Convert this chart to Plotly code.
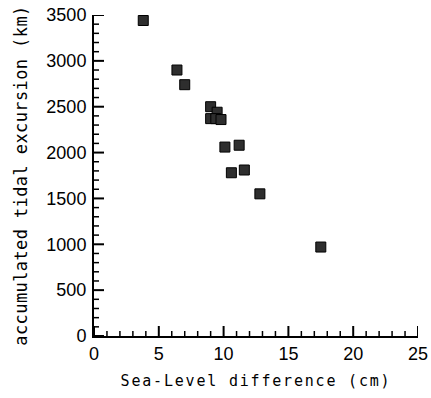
import plotly.graph_objects as go

sea_level_cm = [3.8, 6.4, 7.0, 9.0, 9.5, 9.0, 9.4, 9.8, 10.1, 11.2, 10.6, 11.6, 12.8, 17.5]
tidal_km = [3440, 2900, 2740, 2500, 2440, 2370, 2370, 2360, 2060, 2080, 1780, 1810, 1550, 970]

x_title = "Sea-Level difference (cm)"
y_title = "accumulated tidal excursion (km)"

x_major = [0, 5, 10, 15, 20, 25]
x_minor = [v for v in range(0, 26) if v % 5 != 0]
y_major = [0, 500, 1000, 1500, 2000, 2500, 3000, 3500]
y_minor = [v for v in range(0, 3501, 100) if v % 500 != 0]

W, H = 431, 398
ML, MR, MT, MB = 94, 13, 15, 62
X_RANGE = [0, 25]
Y_RANGE = [0, 3500]
px_x = (X_RANGE[1] - X_RANGE[0]) / (W - ML - MR)   # data units per pixel
px_y = (Y_RANGE[1] - Y_RANGE[0]) / (H - MT - MB)

x_title_font = dict(family="DejaVu Sans Mono", size=15, color="black")
y_title_font = dict(family="DejaVu Sans Mono", size=17, color="black")
tick_font = dict(family="Liberation Sans", size=18, color="black")

fig = go.Figure()

# inside tick marks, built from the tick lists
def tick_trace(vals, length, width, horizontal):
    xs, ys = [], []
    for v in vals:
        if horizontal:  # x-axis ticks pointing up
            xs += [v, v, None]
            ys += [Y_RANGE[0], Y_RANGE[0] + length * px_y, None]
        else:           # y-axis ticks pointing right
            xs += [X_RANGE[0], X_RANGE[0] + length * px_x, None]
            ys += [v, v, None]
    return go.Scatter(x=xs, y=ys, mode="lines", line=dict(color="black", width=width),
                      hoverinfo="skip", showlegend=False, cliponaxis=False)

fig.add_trace(tick_trace(x_major, 10, 2, True))
fig.add_trace(tick_trace(x_minor, 5, 1.5, True))
fig.add_trace(tick_trace(y_major, 10, 2, False))
fig.add_trace(tick_trace(y_minor, 5, 1.5, False))

fig.add_trace(go.Scatter(
    x=sea_level_cm, y=tidal_km, mode="markers",
    marker=dict(symbol="square", size=10, color="#2e2e2e",
                line=dict(color="black", width=1)),
    showlegend=False,
))

def spaced(t, s):
    return '<span style="letter-spacing:%spx">' % s + t + '</span>'

fig.update_layout(
    width=W, height=H,
    margin=dict(l=ML, r=MR, t=MT, b=MB),
    plot_bgcolor="white", paper_bgcolor="white",
    xaxis=dict(
        range=X_RANGE, tickvals=x_major, ticks="",
        showline=True, linecolor="black", linewidth=2, showgrid=False, zeroline=False,
        tickfont=tick_font, automargin=False,
        title=dict(text=spaced(x_title, 1.8), font=x_title_font, standoff=13),
    ),
    yaxis=dict(
        range=Y_RANGE, tickvals=y_major, ticks="", ticklabelstandoff=2,
        showline=True, linecolor="black", linewidth=2, showgrid=False, zeroline=False,
        tickfont=tick_font, automargin=False,
        title=dict(text=spaced(y_title, 0.4), font=y_title_font, standoff=14),
    ),
)

fig.write_html("out.html", post_script="document.body.style.margin='0';",
               config={"displayModeBar": False})
